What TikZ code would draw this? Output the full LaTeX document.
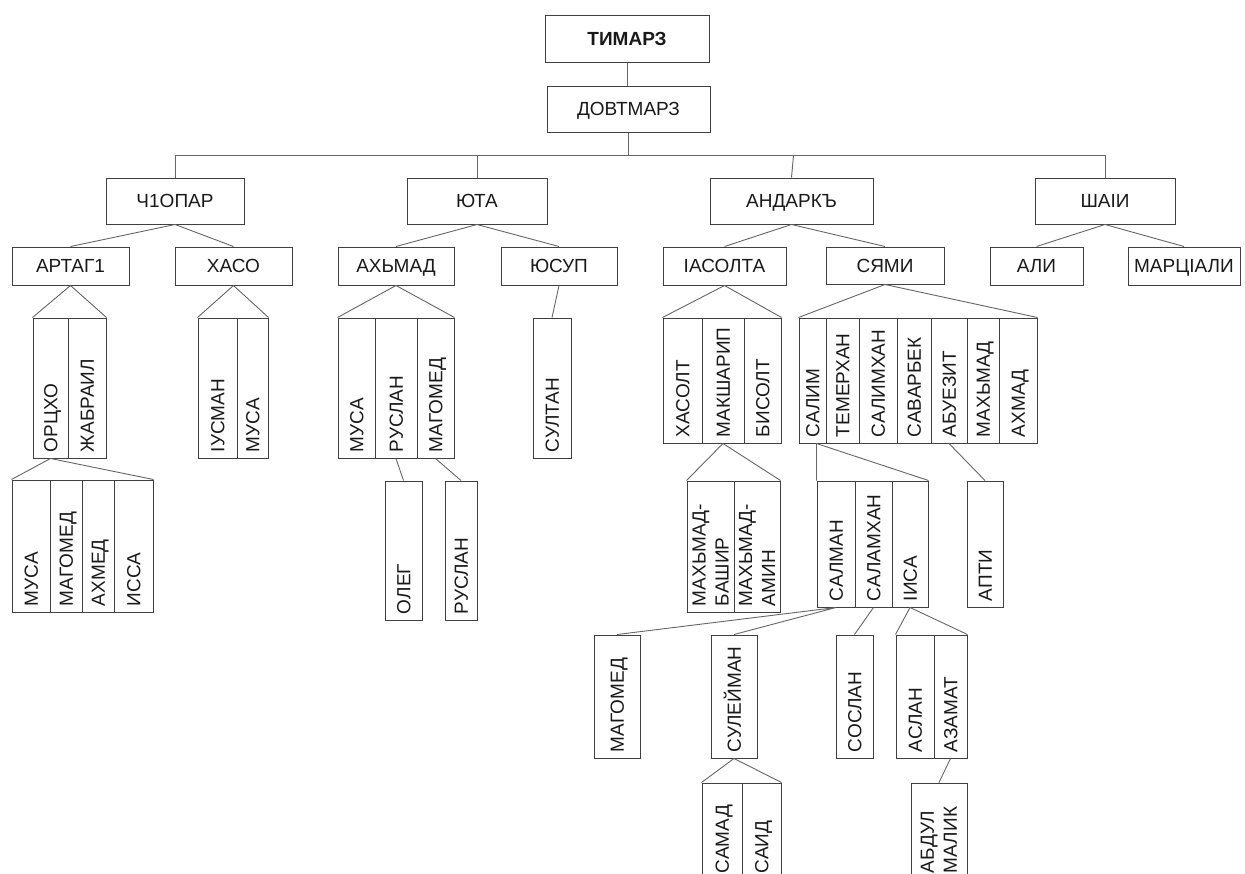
\documentclass[tikz,border=0pt]{standalone}
\usepackage{fontspec}
\setmainfont{Liberation Sans}
\newcommand\lab{\fontsize{19}{23}\selectfont}
\tikzset{
  hb/.style={draw=black!75, line width=1pt, inner sep=0pt, font=\lab, text=black!90,
             text height=13.6pt, text depth=0pt},
  vc/.style={draw=black!75, line width=1pt, rotate=90, inner xsep=6pt, inner ysep=0pt,
             align=left, font=\lab, text=black!90},
  one/.style={text height=13.6pt, text depth=0pt},
  two/.style={},
  ln/.style={draw=black!60, line width=0.9pt}
}
\newcommand\vcol[7][one]{%
  \pgfmathsetmacro\vcx{(#3+#4)/2}\pgfmathsetmacro\vcy{(#5+#6)/2}%
  \pgfmathsetmacro\vch{#6-#5}\pgfmathsetmacro\vcw{#4-#3}\pgfmathsetmacro\vct{#6-#5-12}%
  \node[vc, #1, minimum width=\vch pt, minimum height=\vcw pt, text width=\vct pt] (#2) at (\vcx,\vcy) {#7};}
\begin{document}
\begin{tikzpicture}[x=1pt,y=-1pt]
\useasboundingbox (0,0) rectangle (1245,873);
\clip (0,0) rectangle (1245,873);
% level 0-2
\node[hb, minimum width=164pt, minimum height=47pt] (tim) at (627,38.5) {\bfseries ТИМАРЗ};
\node[hb, minimum width=163pt, minimum height=46pt] (dov) at (628.5,109) {ДОВТМАРЗ};
\node[hb, minimum width=138pt, minimum height=46pt] (chop) at (175,201) {Ч1ОПАР};
\node[hb, minimum width=140pt, minimum height=46pt] (yuta) at (477,201) {ЮТА};
\node[hb, minimum width=163pt, minimum height=46pt] (and) at (791.5,201) {АНДАРКЪ};
\node[hb, minimum width=140pt, minimum height=46pt] (shai) at (1105,201) {ШАIИ};
% level 3
\node[hb, minimum width=117pt, minimum height=38pt] (art) at (70.5,266) {АРТАГ1};
\node[hb, minimum width=117pt, minimum height=38pt] (xaso) at (233.5,266) {ХАСО};
\node[hb, minimum width=116pt, minimum height=38pt] (axm) at (396,266) {АХЬМАД};
\node[hb, minimum width=116pt, minimum height=38pt] (yusup) at (559,266) {ЮСУП};
\node[hb, minimum width=123pt, minimum height=38pt] (asolta) at (724.5,266) {IАСОЛТА};
\node[hb, minimum width=118pt, minimum height=37pt] (syami) at (885,265.5) {СЯМИ};
\node[hb, minimum width=93pt, minimum height=38pt] (ali) at (1036.5,266) {АЛИ};
\node[hb, minimum width=112pt, minimum height=38pt] (marc) at (1184,266) {МАРЦIАЛИ};
% vertical columns
\vcol{orc}{33}{68}{318}{458}{ОРЦХО}
\vcol{jab}{68}{106}{318}{458}{ЖАБРАИЛ}
\vcol{usm}{198}{237}{318}{458}{IУСМАН}
\vcol{musaA}{237}{268}{318}{458}{МУСА}
\vcol{musaB}{12}{50}{480}{612}{МУСА}
\vcol{magB}{50}{82}{480}{612}{МАГОМЕД}
\vcol{axmed}{82}{114}{480}{612}{АХМЕД}
\vcol{issa}{114}{153}{480}{612}{ИССА}
\vcol{musaC}{338}{375}{318}{458}{МУСА}
\vcol{rusA}{375}{417}{318}{458}{РУСЛАН}
\vcol{magA}{417}{454}{318}{458}{МАГОМЕД}
\vcol{sultan}{533}{571}{318}{458}{СУЛТАН}
\vcol{oleg}{385}{422}{481}{620}{ОЛЕГ}
\vcol{rusB}{445}{477}{481}{620}{РУСЛАН}
\vcol{xasolt}{663}{702}{318}{443}{ХАСОЛТ}
\vcol{maksh}{702}{744}{318}{443}{МАКШАРИП}
\vcol{bisolt}{744}{781}{318}{443}{БИСОЛТ}
\vcol{salim}{799}{826}{318}{443}{САЛИМ}
\vcol{temer}{826}{859}{318}{443}{ТЕМЕРХАН}
\vcol{salimx}{859}{897}{318}{443}{САЛИМХАН}
\vcol{savar}{897}{931}{318}{443}{САВАРБЕК}
\vcol{abuez}{931}{967}{318}{443}{АБУЕЗИТ}
\vcol{maxm}{967}{999}{318}{443}{МАХЬМАД}
\vcol{axmad}{999}{1037}{318}{443}{АХМАД}
\vcol[two]{mbash}{687}{734}{481}{612}{МАХЬМАД-\\БАШИР}
\vcol[two]{mamin}{734}{780}{481}{612}{МАХЬМАД-\\АМИН}
\vcol{salman}{817}{855}{481}{607}{САЛМАН}
\vcol{salamx}{855}{892}{481}{607}{САЛАМХАН}
\vcol{isa}{892}{928}{481}{607}{IИСА}
\vcol{apti}{967}{1003}{481}{607}{АПТИ}
\vcol{magC}{594}{640}{635}{758}{МАГОМЕД}
\vcol{sulei}{711}{757}{635}{758}{СУЛЕЙМАН}
\vcol{soslan}{836}{873}{635}{758}{СОСЛАН}
\vcol{aslan}{896}{934}{635}{758}{АСЛАН}
\vcol{azamat}{934}{967}{635}{758}{АЗАМАТ}
\vcol{samad}{702}{742}{783}{879}{САМАД}
\vcol{said}{742}{781}{783}{879}{САИД}
\vcol[two]{abdul}{911}{967}{783}{879}{АБДУЛ\\МАЛИК}
% connectors
\draw[ln] (tim.south) -- (tim.south |- dov.north);
\draw[ln] (dov.south) -- ++(0,23) coordinate (busc);
\draw[ln] (chop.north) |- (busc) -| (shai.north);
\draw[ln] (yuta.north) -- (yuta.north |- busc);
\draw[ln] (and.north) -- ([xshift=2pt]and.north |- busc);
\draw[ln] (art.north) -- (chop.south) -- (xaso.north);
\draw[ln] (axm.north) -- (yuta.south) -- (yusup.north);
\draw[ln] (asolta.north) -- (and.south) -- (syami.north);
\draw[ln] (ali.north) -- (shai.south) -- (marc.north);
\draw[ln] (orc.north east) -- (art.south) -- (jab.south east);
\draw[ln] (usm.north east) -- (xaso.south) -- (musaA.south east);
\draw[ln] (musaB.north east) -- (orc.west) -- (issa.south east);
\draw[ln] (musaC.north east) -- (axm.south) -- (magA.south east);
\draw[ln] (yusup.south) -- (sultan.east);
\draw[ln] (rusA.west) -- (oleg.east);
\draw[ln] (magA.west) -- (rusB.east);
\draw[ln] (xasolt.north east) -- (asolta.south) -- (bisolt.south east);
\draw[ln] (salim.north east) -- (syami.south) -- (axmad.south east);
\draw[ln] (mbash.north east) -- (maksh.west) -- (mamin.south east);
\draw[ln] (salman.north east) -- ([xshift=4pt]salim.west) -- (isa.south east);
\draw[ln] (abuez.west) -- (apti.east);
\draw[ln] (magC.east) -- (salman.west) -- (sulei.east);
\draw[ln] (salamx.west) -- (soslan.east);
\draw[ln] (aslan.north east) -- (isa.west) -- (azamat.south east);
\draw[ln] (samad.north east) -- (sulei.west) -- (said.south east);
\draw[ln] (azamat.west) -- (abdul.east);
\end{tikzpicture}
\end{document}
